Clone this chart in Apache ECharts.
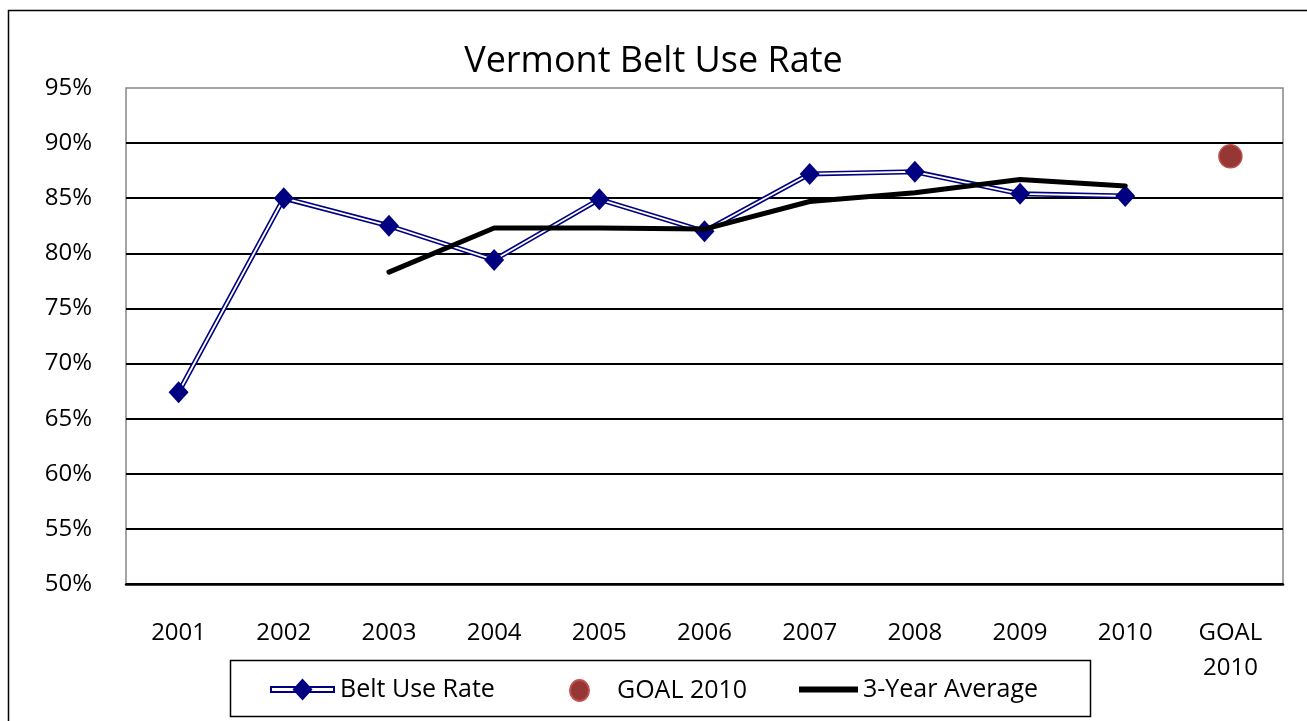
<!DOCTYPE html>
<html>
<head>
<meta charset="utf-8">
<title>Vermont Belt Use Rate</title>
<script src="https://cdn.jsdelivr.net/npm/echarts@6/dist/echarts.min.js"></script>
<style>
  html, body { margin: 0; padding: 0; background: #fff; }
  #chart { width: 1307px; height: 721px; }
</style>
</head>
<body>
<div id="chart"></div>
<script>
// x categories, last column holds the goal
const years = ['2001', '2002', '2003', '2004', '2005', '2006', '2007', '2008', '2009', '2010', 'GOAL\n2010'];

// belt use rate in %
const beltUseRate = [67.4, 85.0, 82.5, 79.4, 84.9, 82.0, 87.2, 87.4, 85.4, 85.2, null];
// goal for 2010
const goal2010 = [null, null, null, null, null, null, null, null, null, null, 88.8];
// 3-year rolling average
const threeYearAvg = [null, null, 78.3, 82.3, 82.3, 82.2, 84.7, 85.5, 86.7, 86.1, null];

// y axis ticks
const yMin = 50;
const yMax = 95;
const yStep = 5;

const font = '"Open Sans", sans-serif';
const navy = '#000080';

// double line with diamond, like the excel legend key
const beltIcon = 'path://M0 7.5H65V14.5H0Z M2 9.5V12.5H63V9.5Z M32.5 0L42.5 11L32.5 22L22.5 11Z';
// circle sitting on the left of a wider key box
const goalIcon = 'path://M9.5 0A9.5 10.5 0 1 1 9.5 21A9.5 10.5 0 1 1 9.5 0Z M42 21L42 21';
// plain thick bar for the average (no marker)
const avgIcon = 'path://M0 0L0 0 M0 8H59V14H0Z M59 22L59 22';

const legendText = { fontFamily: font, fontSize: 25, color: '#000' };

const chart = echarts.init(document.getElementById('chart'));

const option = {
  animation: false,
  backgroundColor: '#fff',
  title: {
    text: 'Vermont Belt Use Rate',
    left: 'center',
    top: 39,
    textStyle: { fontFamily: font, fontSize: 36, fontWeight: 'normal', color: '#000' },
  },
  graphic: [
    // outer chart frame
    { type: 'rect', left: 6, top: 8, shape: { width: 1300, height: 760 }, style: { fill: 'none', stroke: '#000', lineWidth: 1.5 }, z: -1 },
    // legend frame
    { type: 'rect', left: 228, top: 658, shape: { width: 860, height: 56 }, style: { fill: 'none', stroke: '#000', lineWidth: 1.5 }, z: -1 },
  ],
  legend: [
    {
      data: [{ name: 'Belt Use Rate', icon: beltIcon }],
      left: 270, top: 677, padding: 0,
      itemWidth: 65, itemHeight: 22,
      selectedMode: false,
      textStyle: legendText,
    },
    {
      data: [{ name: 'GOAL 2010', icon: goalIcon }],
      left: 569, top: 678, padding: 0,
      itemWidth: 42, itemHeight: 21,
      selectedMode: false,
      textStyle: legendText,
    },
    {
      data: [{ name: '3-Year Average', icon: avgIcon }],
      left: 799, top: 677, padding: 0,
      itemWidth: 59, itemHeight: 22,
      selectedMode: false,
      textStyle: legendText,
    },
  ],
  grid: {
    left: 126, top: 88, right: 24, bottom: 137,
    show: true,
    borderColor: '#868686',
    borderWidth: 1.5,
    outerBoundsMode: 'none',
  },
  xAxis: {
    type: 'category',
    data: years,
    axisTick: { show: false },
    axisLine: { lineStyle: { color: '#000', width: 2.5 } },
    axisLabel: { interval: 0, fontFamily: font, fontSize: 24, lineHeight: 35, margin: 32, color: '#000' },
  },
  yAxis: {
    type: 'value',
    min: yMin,
    max: yMax,
    interval: yStep,
    axisLine: { show: false },
    axisTick: { show: false },
    axisLabel: { formatter: '{value}%', fontFamily: font, fontSize: 24, margin: 34, color: '#000' },
    splitLine: { show: true, showMaxLine: false, lineStyle: { color: '#000', width: 2 } },
  },
  series: [
    {
      // outer navy stroke of the double line
      name: 'Belt Use Rate',
      type: 'line',
      data: beltUseRate,
      symbol: 'none',
      lineStyle: { color: navy, width: 5 },
      itemStyle: { color: navy },
      z: 2,
    },
    {
      // white centre of the double line
      name: 'beltInner',
      type: 'line',
      data: beltUseRate,
      symbol: 'none',
      silent: true,
      lineStyle: { color: '#fff', width: 1.8 },
      z: 3,
    },
    {
      // diamond markers on top
      name: 'beltMarks',
      type: 'line',
      data: beltUseRate,
      symbol: 'diamond',
      symbolSize: [20, 22],
      showAllSymbol: true,
      lineStyle: { width: 0, opacity: 0 },
      itemStyle: { color: navy },
      z: 4,
    },
    {
      name: 'GOAL 2010',
      type: 'scatter',
      data: goal2010,
      symbol: 'circle',
      symbolSize: 23,
      itemStyle: { color: '#953735', borderColor: '#c0504d', borderWidth: 1.5, opacity: 1 },
      z: 5,
    },
    {
      name: '3-Year Average',
      type: 'line',
      data: threeYearAvg,
      symbol: 'none',
      lineStyle: { color: '#000', width: 5, cap: 'round', join: 'round' },
      itemStyle: { color: '#000' },
      z: 5,
    },
  ],
};

chart.setOption(option);
</script>
</body>
</html>
